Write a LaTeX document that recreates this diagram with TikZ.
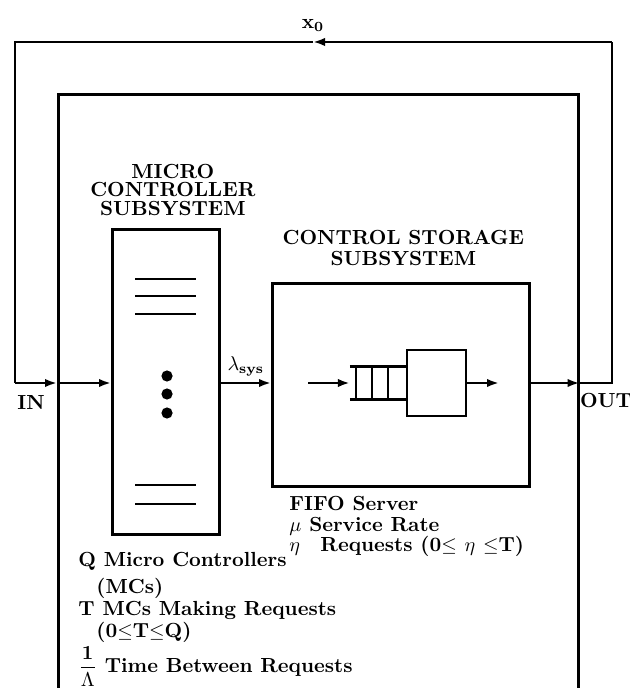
\documentclass[tikz,border=0pt]{standalone}
\usepackage{tikz}
\usetikzlibrary{arrows.meta, positioning}

\begin{document}
\begin{tikzpicture}[
  x=0.5pt, y=-0.5pt,
  every node/.style={font=\fontsize{10.2}{11}\selectfont\bfseries},
  box/.style={rectangle, draw, line width=1.3pt, inner sep=0pt},
  wire/.style={line width=1.3pt},
  arrow/.style={-{Latex[length=6pt,width=4.2pt]}, line width=1.3pt},
  title/.style={align=center, inner sep=0pt},
  lbl/.style={inner sep=0pt},
  info/.style={align=left, inner sep=0pt, anchor=north west},
]
  \useasboundingbox (0,0) rectangle (629,688);

  % system frame and the two subsystems
  \node[box, minimum width=260pt, minimum height=320pt, anchor=north west] (sys) at (57,93) {};
  \node[box, minimum width=53.5pt, minimum height=152.5pt, anchor=north west] (mc) at (111,228) {};
  \node[box, minimum width=128.5pt, minimum height=101.5pt, anchor=north west] (cs) at (271,282) {};

  \node[title, font=\fontsize{10.2}{9.2}\selectfont\bfseries, above=6pt of mc.north, xshift=3.5pt] (mctitle) {MICRO\\CONTROLLER\\SUBSYSTEM};
  \node[title, font=\fontsize{10.2}{10.5}\selectfont\bfseries, above=8pt of cs.north, xshift=1.25pt] (cstitle) {CONTROL STORAGE\\SUBSYSTEM};

  % micro controllers
  \foreach \y in {279,296,314,485,504}
    \draw[wire] (135,\y) -- (196,\y);
  \foreach \y in {376,394,413}
    \fill (167,\y) circle (2.8pt);

  % FIFO queue and server
  \node[box, minimum width=29.5pt, minimum height=33pt] (srv) at (436.5,383) {};
  \node[minimum width=27.5pt, minimum height=16pt, inner sep=0pt, anchor=east] (q) at (srv.west) {};
  \draw[wire] (q.north west) -- (q.north east) (q.south west) -- (q.south east);
  \foreach \dx in {3,11,19}
    \draw[wire] ([xshift=\dx pt]q.north west) -- ([xshift=\dx pt]q.south west);
  \coordinate (qin) at (308,383);
  \coordinate (qout) at (499,383);
  \draw[arrow] (qin) -- (q.west);
  \draw[arrow] (srv.east) -- (qout);

  % flow through the system
  \coordinate (in) at (15,383);
  \coordinate (out) at (612,383);
  \coordinate (fb) at (313,42);
  \coordinate (sysin) at (in -| sys.west);
  \coordinate (sysout) at (out -| sys.east);

  \draw[arrow] (in) -- (sysin);
  \draw[arrow] (sysin) -- (in -| mc.west);
  \draw[arrow] (in -| mc.east) -- node[above, inner sep=2.5pt] (lam) {$\lambda_{\mathbf{sys}}$} (in -| cs.west);
  \draw[arrow] (out -| cs.east) -- (sysout);
  \draw[wire] (sysout) -- (out) -- (out |- fb);
  \draw[arrow] (out |- fb) -- (fb);
  \draw[wire, line join=miter] (fb) -- (in |- fb) -- (in);

  \node[lbl, above=5pt of fb] (x0) {x$_{\mathbf{0}}$};
  \node[lbl, below right=6pt and 1pt of in] (inlbl) {IN};
  \node[lbl, below right=5pt and 0pt of sysout] (outlbl) {OUT};

  % parameters
  \node[info, font=\fontsize{10.2}{10.4}\selectfont\bfseries, below right=4pt and 9pt of cs.south west] (fifo)
    {FIFO Server\\ $\mu$ Service Rate\\ $\eta$\quad Requests (0$\leq$ $\eta$ $\leq$T)};
  \node[info] (mcinfo) at ([xshift=-16.5pt, yshift=-8pt]mc.south west)
    {Q Micro Controllers\\[2.5pt]
     \hspace*{9pt}(MCs)\\
     T MCs Making Requests\\
     \hspace*{9pt}(0$\leq$T$\leq$Q)\\[1pt]
     $\displaystyle\frac{\mathbf{1}}{\Lambda}$ Time Between Requests};
\end{tikzpicture}
\end{document}
